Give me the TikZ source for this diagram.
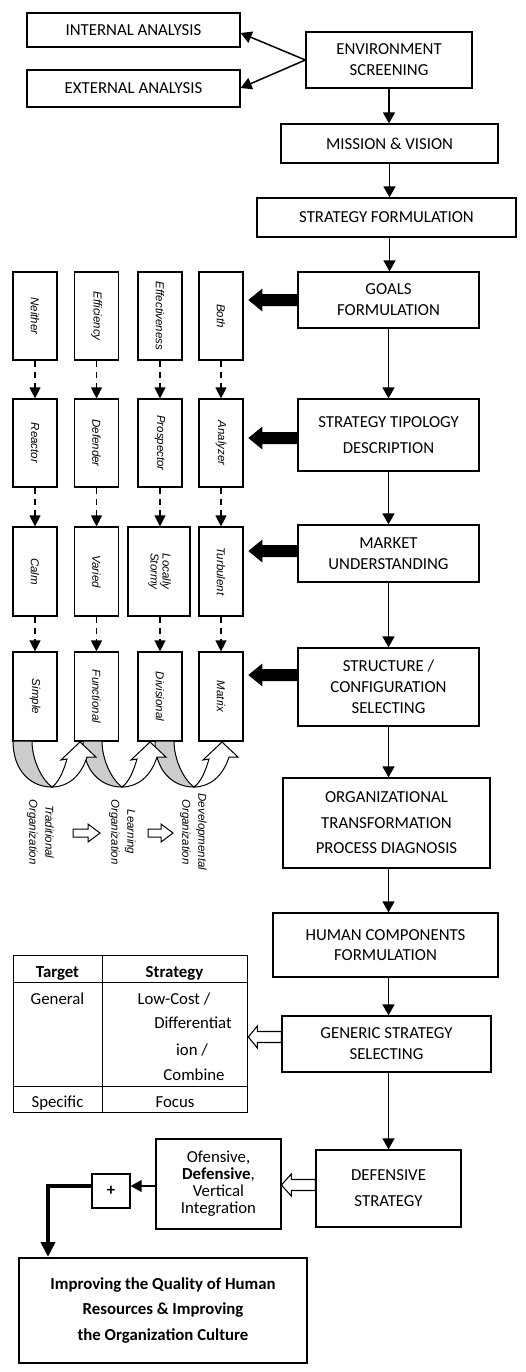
\documentclass[tikz,border=0pt]{standalone}
\usepackage{fontspec}
\setmainfont{Carlito}
\newfontfamily\arialf{Liberation Sans}
\usepackage{graphicx}
\usetikzlibrary{arrows.meta}
\newcommand\fatarrow[1]{\fill (#1) ++(0,-6) -- ++(-35,0) -- ++(0,-5.5) -- ++(-14,11.5) -- ++(14,11.5) -- ++(0,-5.5) -- ++(35,0) -- cycle;}
\newcommand\openleft[5]{\filldraw[fill=white,line width=1.1pt] (#1) ++(0,-#4) -- ++({-(#2-#3)},0) -- ++(0,{-(#5-#4)}) -- ++(-#3,#5) -- ++(#3,#5) -- ++(0,{-(#5-#4)}) -- ++({#2-#3},0) -- cycle;}
\newcommand\ribgray[1]{\begin{scope}[shift={(#1)}]
  \filldraw[fill=gray!40,line width=1pt] (0,0) .. controls (0,29) and (17,46) .. (39,46) .. controls (29,39) and (19,19) .. (19,0) -- cycle;
\end{scope}}
\newcommand\ribwhite[1]{\begin{scope}[shift={(#1)}]
  \filldraw[fill=white,line width=1pt] (39,46) .. controls (55,46) and (68,35) .. (74,16) -- (83,16) -- (67,1) -- (48,19) -- (54,18) .. controls (50,32) and (45,42) .. (39,46) -- cycle;
\end{scope}}
\begin{document}
\begin{tikzpicture}[x=1pt,y=-1pt,
  mainbox/.style={draw, line width=1.3pt, inner sep=0pt, align=center, font=\fontsize{16.8}{21}\selectfont},
  colbox/.style={draw, line width=1.2pt, inner sep=0pt, minimum width=44pt, minimum height=88pt, font=\arialf\itshape\fontsize{11.5}{12}\selectfont},
  arr/.style={line width=1.5pt, -{Triangle[length=11pt,width=12pt]}},
  darr/.style={line width=1.3pt, dash pattern=on 6pt off 5pt, -{Triangle[length=11pt,width=11pt]}},
  lbl/.style={font=\arialf\itshape\fontsize{11.5}{16}\selectfont, inner sep=0pt},
  tbl/.style={font=\fontsize{16.8}{20}\selectfont, inner sep=0pt, anchor=base},
]
\fill[white] (0,0) rectangle (525,1372);
\useasboundingbox (0,0) rectangle (525,1372);

% main column
\node[mainbox, minimum width=213pt, minimum height=34pt] (int) at (133.5,30) {INTERNAL ANALYSIS};
\node[mainbox, minimum width=213pt, minimum height=37pt] (ext) at (133.5,88.5) {EXTERNAL ANALYSIS};
\node[mainbox, minimum width=166pt, minimum height=56pt] (env) at (389,60) {ENVIRONMENT\\SCREENING};
\node[mainbox, minimum width=217pt, minimum height=39pt] (mission) at (389.5,143.5) {MISSION \& VISION};
\node[mainbox, minimum width=259pt, minimum height=39pt] (stratf) at (386.5,217.5) {STRATEGY FORMULATION};
\node[mainbox, minimum width=181pt, minimum height=56pt] (goals) at (388.5,300) {GOALS\\FORMULATION};
\node[mainbox, minimum width=181pt, minimum height=72pt] (tipo) at (388.5,435) {STRATEGY TIPOLOGY\\[5pt]DESCRIPTION};
\node[mainbox, minimum width=181pt, minimum height=57pt] (market) at (388.5,553.5) {MARKET\\UNDERSTANDING};
\node[mainbox, minimum width=181pt, minimum height=78pt] (struct) at (388.5,687) {STRUCTURE /\\CONFIGURATION\\SELECTING};
\node[mainbox, minimum width=207pt, minimum height=90pt] (org) at (386.5,823) {ORGANIZATIONAL\\[4.5pt]TRANSFORMATION\\[4.5pt]PROCESS DIAGNOSIS};
\node[mainbox, minimum width=225pt, minimum height=64pt] (human) at (385.5,945) {HUMAN COMPONENTS\\[-1pt]FORMULATION};
\node[mainbox, minimum width=209pt, minimum height=56pt] (generic) at (386.5,1044) {GENERIC STRATEGY\\SELECTING};
\node[mainbox, minimum width=145pt, minimum height=77pt] (defs) at (388.5,1188.5) {DEFENSIVE\\[5pt]STRATEGY};
\node[mainbox, minimum width=125pt, minimum height=90pt, font=\fontsize{16.8}{17}\selectfont] (ofen) at (218.5,1184) {Ofensive,\\\textbf{Defensive},\\Vertical\\Integration};
\node[mainbox, minimum width=38pt, minimum height=34pt] (plus) at (111,1191) {\textbf{+}};
\node[mainbox, line width=2pt, minimum width=288pt, minimum height=105pt, font=\bfseries\fontsize{16.8}{21}\selectfont] (final) at (163,1310.5) {Improving the Quality of Human\\[4.5pt]Resources \& Improving\\[4.5pt]the Organization Culture};

% main connectors
\draw[arr] (env.west) -- (int.east |- 0,33);
\draw[arr] (env.west) -- (ext.east |- 0,88);
\draw[arr] (env.south) -- (env.south |- mission.north);
\draw[arr] (mission.south) -- (mission.south |- stratf.north);
\draw[arr] (mission.south |- stratf.south) -- (mission.south |- goals.north);
\draw[arr] (goals.south) -- (goals.south |- tipo.north);
\draw[arr] (tipo.south) -- (tipo.south |- market.north);
\draw[arr] (market.south) -- (market.south |- struct.north);
\draw[arr] (struct.south) -- (struct.south |- org.north);
\draw[arr] (struct.south |- org.south) -- (struct.south |- human.north);
\draw[arr] (struct.south |- human.south) -- (struct.south |- generic.north);
\draw[arr] (struct.south |- generic.south) -- (struct.south |- defs.north);
\draw[arr] (ofen.west |- 0,1186) -- (plus.east |- 0,1186);
\draw[line width=3.5pt, -{Triangle[length=15pt,width=14pt]}] (plus.west |- 0,1186) -| (final.north -| 48,0);

% fat arrows
\fatarrow{goals.west}
\fatarrow{tipo.west |- 0,438}
\fatarrow{market.west |- 0,551}
\fatarrow{struct.west |- 0,675}

% open arrows
\openleft{generic.west |- 0,1037}{33}{9}{5.5}{11}
\openleft{defs.west |- 0,1185}{34}{10}{5.5}{11}

% column grid
\node[colbox] (a1) at (35,316) {\rotatebox{-90}{Neither}};
\node[colbox] (a2) at (96.5,316) {\rotatebox{-90}{Efficiency}};
\node[colbox] (a3) at (160,316) {\rotatebox{-90}{Effectiveness}};
\node[colbox] (a4) at (221,316) {\rotatebox{-90}{Both}};
\node[colbox] (b1) at (35,443) {\rotatebox{-90}{Reactor}};
\node[colbox] (b2) at (96.5,443) {\rotatebox{-90}{Defender}};
\node[colbox] (b3) at (160,443) {\rotatebox{-90}{Prospector}};
\node[colbox] (b4) at (221,443) {\rotatebox{-90}{Analyzer}};
\node[colbox, minimum height=89pt] (c1) at (35,571.5) {\rotatebox{-90}{Calm}};
\node[colbox, minimum height=89pt] (c2) at (96.5,571.5) {\rotatebox{-90}{Varied}};
\node[colbox, minimum height=89pt, minimum width=62pt] (c3) at (159,571.5) {\rotatebox{-90}{\begin{tabular}{@{}c@{}}Locally\\Stormy\end{tabular}}};
\node[colbox, minimum height=89pt] (c4) at (221,571.5) {\rotatebox{-90}{Turbulent}};
\node[colbox, minimum height=89pt] (d1) at (35,696.5) {\rotatebox{-90}{Simple}};
\node[colbox, minimum height=89pt] (d2) at (96.5,696.5) {\rotatebox{-90}{Functional}};
\node[colbox, minimum height=89pt] (d3) at (160,696.5) {\rotatebox{-90}{Divisional}};
\node[colbox, minimum height=89pt] (d4) at (221,696.5) {\rotatebox{-90}{Matrix}};

\foreach \i in {1,2,3,4}{
  \draw[darr] (a\i.south) -- (a\i.south |- b\i.north);
  \draw[darr] (b\i.south) -- (b\i.south |- c\i.north);
  \draw[darr] (c\i.south -| d\i.south) -- (d\i.north);
}

% ribbons
\ribgray{13,741}
\ribgray{83,741}
\ribgray{155,741}
\ribwhite{13,741}
\ribwhite{83,741}
\ribwhite{155,741}

% bottom labels
\node[lbl] (l1) at (40.5,832) {\rotatebox{-90}{\begin{tabular}{@{}c@{}}Traditional\\Organization\end{tabular}}};
\node[lbl] (l2) at (122.5,832) {\rotatebox{-90}{\begin{tabular}{@{}c@{}}Learning\\Organization\end{tabular}}};
\node[lbl] (l3) at (193.5,832) {\rotatebox{-90}{\begin{tabular}{@{}c@{}}Developmental\\Organization\end{tabular}}};
\filldraw[fill=white,line width=1pt] (73,829) -- (88,829) -- (88,824) -- (100,833) -- (88,842) -- (88,837) -- (73,837) -- cycle;
\filldraw[fill=white,line width=1pt] (148,829) -- (161,829) -- (161,824) -- (173,833) -- (161,842) -- (161,837) -- (148,837) -- cycle;

% table
\draw[line width=0.8pt] (13,955) rectangle (247,1112);
\draw[line width=0.8pt] (102,955) -- (102,1112);
\draw[line width=0.8pt] (13,982) -- (247,982);
\draw[line width=0.8pt] (13,1086) -- (247,1086);
\node[tbl, font=\bfseries\fontsize{16.8}{20}\selectfont] (th1) at (57.5,977) {Target};
\node[tbl, font=\bfseries\fontsize{16.8}{20}\selectfont] (th2) at (174.5,977) {Strategy};
\node[tbl] (tg) at (57.5,1004) {General};
\node[tbl] (s1) at (174,1004) {Low-Cost /};
\node[tbl] (s2) at (193,1028) {Differentiat};
\node[tbl] (s3) at (192,1055) {ion /};
\node[tbl] (s4) at (194,1080) {Combine};
\node[tbl] (tsp) at (57.5,1107) {Specific};
\node[tbl] (tf) at (175,1107) {Focus};
\end{tikzpicture}
\end{document}
